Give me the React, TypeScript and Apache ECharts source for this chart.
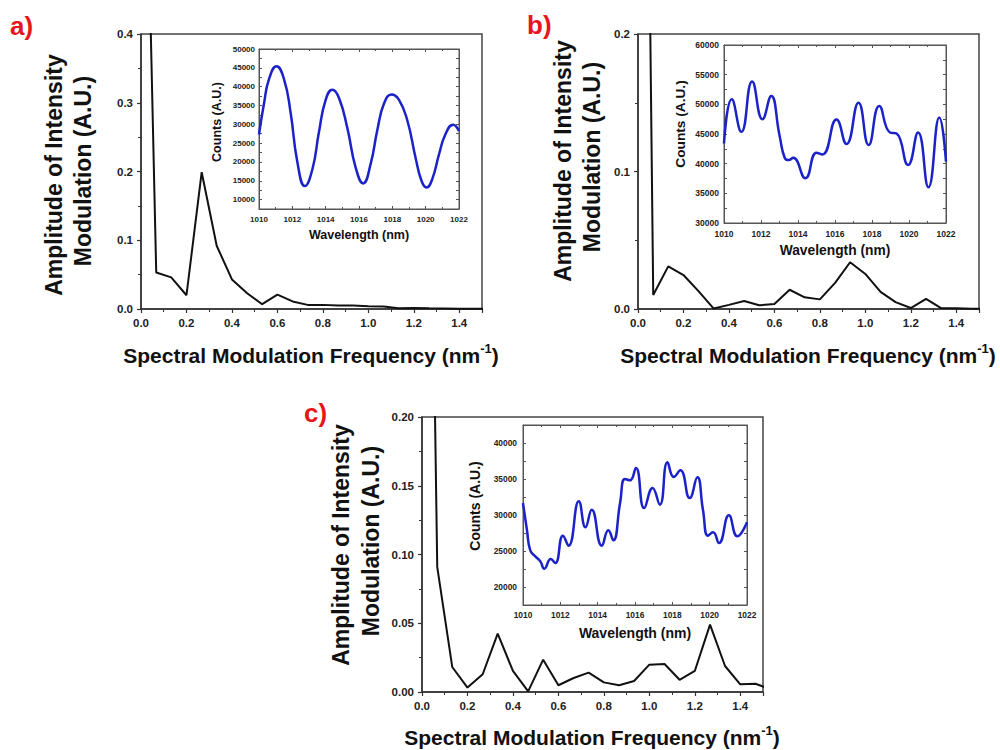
import React, { useEffect, useRef } from "react";
import * as echarts from "echarts";

// ---- data ----
const FREQ = [0, 0.067, 0.133, 0.2, 0.267, 0.333, 0.4, 0.467, 0.533, 0.6, 0.667, 0.733, 0.8, 0.867, 0.933, 1.0, 1.067, 1.133, 1.2, 1.267, 1.333, 1.4, 1.467, 1.533];
const AMP_A = [1.03, 0.053, 0.046, 0.02, 0.199, 0.092, 0.043, 0.023, 0.007, 0.021, 0.011, 0.006, 0.006, 0.005, 0.005, 0.004, 0.0035, 0.001, 0.0015, 0.001, 0.0008, 0.0005, 0.0003, 0.0002];
const AMP_B = [1.0, 0.0102, 0.031, 0.0247, 0.0128, 0.0003, 0.003, 0.0058, 0.0027, 0.0036, 0.014, 0.0085, 0.007, 0.019, 0.034, 0.0255, 0.0124, 0.005, 0.0007, 0.0073, 0.0007, 0.0005, 0.0002, 0.0001];
const AMP_C = [0.85, 0.091, 0.0182, 0.0032, 0.0129, 0.0425, 0.0153, 0.0005, 0.0235, 0.0049, 0.0102, 0.0141, 0.007, 0.0049, 0.008, 0.0199, 0.0204, 0.0089, 0.0153, 0.049, 0.0189, 0.0056, 0.006, 0.002];

const WL_A = [1010.0, 1010.3, 1010.6, 1011.05, 1011.5, 1011.9, 1012.3, 1012.75, 1013.2, 1013.6, 1014.0, 1014.4, 1014.8, 1015.3, 1015.8, 1016.25, 1016.7, 1017.1, 1017.5, 1017.95, 1018.4, 1018.9, 1019.4, 1019.75, 1020.05, 1020.4, 1020.8, 1021.2, 1021.65, 1022.0];
const CNT_A = [27300, 35500, 42000, 45400, 42000, 33000, 20000, 13600, 18000, 28000, 36500, 39200, 37000, 29000, 18500, 14300, 19500, 28500, 35500, 37900, 36500, 31000, 21000, 15000, 13200, 15500, 22000, 27500, 29900, 28200];

const WL_B = [1010.0, 1010.42, 1010.94, 1011.52, 1012.08, 1012.55, 1013.0, 1013.29, 1013.5, 1013.74, 1014.4, 1015.0, 1015.32, 1016.08, 1016.62, 1017.27, 1017.82, 1018.39, 1018.97, 1019.33, 1019.95, 1020.49, 1021.05, 1021.64, 1022.0];
const CNT_B = [43400, 50840, 45360, 53850, 47490, 51400, 44800, 40900, 40600, 41000, 37540, 41850, 41560, 47430, 43300, 50280, 43130, 49720, 45250, 45080, 39780, 45250, 36030, 47770, 40330];

const WL_C = [1010.0, 1010.21, 1010.39, 1010.66, 1010.93, 1011.14, 1011.49, 1011.73, 1012.14, 1012.44, 1012.99, 1013.35, 1013.68, 1014.22, 1014.57, 1014.84, 1015.2, 1015.46, 1015.73, 1016.05, 1016.49, 1016.94, 1017.33, 1017.74, 1018.08, 1018.43, 1018.93, 1019.34, 1019.64, 1019.91, 1020.18, 1020.5, 1021.03, 1021.48, 1022.0];
const CNT_C = [31670, 27960, 25090, 24260, 23560, 22550, 23890, 23330, 27130, 25740, 31900, 28290, 30740, 25740, 27870, 26480, 31670, 35000, 34810, 36530, 30970, 33750, 31440, 37310, 35280, 36200, 32360, 35230, 30740, 27130, 27590, 26110, 29950, 27040, 28980];

const Y_TITLE_1 = "Amplitude of Intensity";
const Y_TITLE_2 = "Modulation (A.U.)";
const INSET_X_TITLE = "Wavelength (nm)";
const INSET_Y_TITLE = "Counts (A.U.)";

const F = '"Liberation Sans", Arial, Helvetica, sans-serif';
const AXIS_COLOR = "#333";
const LABEL_COLOR = "#222";

const pairs = (xs: number[], ys: number[]) => xs.map((x, i) => [x, ys[i]]);

const isMult = (v: number, step: number) => Math.abs(v / step - Math.round(v / step)) < 1e-6;

function mainX(gridIndex: number) {
  return {
    type: "value",
    gridIndex,
    min: 0,
    max: 1.5,
    interval: 0.2,
    axisLine: { show: true, onZero: false, lineStyle: { color: AXIS_COLOR, width: 1.5 } },
    axisTick: { show: true, length: 4, lineStyle: { color: AXIS_COLOR, width: 1.2 } },
    minorTick: { show: true, splitNumber: 2, length: 3, lineStyle: { color: AXIS_COLOR, width: 1 } },
    splitLine: { show: false },
    minorSplitLine: { show: false },
    axisLabel: {
      margin: 8,
      fontSize: 11.5,
      fontWeight: "bold",
      fontFamily: F,
      color: LABEL_COLOR,
      formatter: (v: number) => (isMult(v, 0.2) && v < 1.45 ? v.toFixed(1) : ""),
    },
  };
}

function mainY(gridIndex: number, max: number, interval: number, digits: number) {
  return {
    type: "value",
    gridIndex,
    min: 0,
    max,
    interval,
    axisLine: { show: true, onZero: false, lineStyle: { color: AXIS_COLOR, width: 1.5 } },
    axisTick: { show: true, length: 4, lineStyle: { color: AXIS_COLOR, width: 1.2 } },
    minorTick: { show: true, splitNumber: 2, length: 3, lineStyle: { color: AXIS_COLOR, width: 1 } },
    splitLine: { show: false },
    minorSplitLine: { show: false },
    axisLabel: {
      margin: 8,
      fontSize: 11.5,
      fontWeight: "bold",
      fontFamily: F,
      color: LABEL_COLOR,
      formatter: (v: number) => v.toFixed(digits),
    },
  };
}

function insetX(gridIndex: number, position: string, labels: boolean, margin: number, fs: number) {
  return {
    type: "value",
    gridIndex,
    position,
    min: 1010,
    max: 1022,
    interval: 2,
    axisLine: { show: true, onZero: false, lineStyle: { color: "#555", width: 1 } },
    axisTick: { show: true, inside: true, length: 3, lineStyle: { color: "#555", width: 1 } },
    minorTick: { show: true, splitNumber: 2, length: 2, lineStyle: { color: "#555", width: 1 } },
    splitLine: { show: false },
    minorSplitLine: { show: false },
    axisLabel: {
      show: labels,
      margin,
      fontSize: fs,
      fontWeight: "bold",
      fontFamily: F,
      color: LABEL_COLOR,
      formatter: (v: number) => String(Math.round(v)),
    },
  };
}

function insetY(gridIndex: number, position: string, labels: boolean, min: number, max: number, margin: number, fs: number) {
  return {
    type: "value",
    gridIndex,
    position,
    min,
    max,
    interval: 2500,
    axisLine: { show: true, onZero: false, lineStyle: { color: "#555", width: 1 } },
    axisTick: { show: true, inside: true, length: 3, lineStyle: { color: "#555", width: 1 } },
    splitLine: { show: false },
    axisLabel: {
      show: labels,
      margin,
      fontSize: fs,
      fontWeight: "bold",
      fontFamily: F,
      color: LABEL_COLOR,
      formatter: (v: number) => (isMult(v, 5000) ? String(Math.round(v)) : ""),
    },
  };
}

function txt(x: number, y: number, text: string, size: number, opts: any = {}) {
  return {
    type: "text",
    x,
    y,
    rotation: opts.rotation || 0,
    z: 100,
    style: {
      text,
      fill: opts.fill || "#111",
      fontSize: size,
      fontWeight: "bold",
      fontFamily: F,
      align: opts.align || "center",
      verticalAlign: "middle",
      textAlign: opts.align || "center",
      textVerticalAlign: "middle",
    },
  };
}

function xTitle(x: number, y: number) {
  return {
    type: "text",
    x,
    y,
    z: 100,
    style: {
      text: "{m|Spectral Modulation Frequency (nm}{s|-1}{m|)}",
      align: "center",
      verticalAlign: "middle",
      textAlign: "center",
      textVerticalAlign: "middle",
      fill: "#111",
      rich: {
        m: { fontSize: 21, fontWeight: "bold", fontFamily: F, fill: "#111", lineHeight: 26 },
        s: { fontSize: 13, fontWeight: "bold", fontFamily: F, fill: "#111", verticalAlign: "top", lineHeight: 14 },
      },
    },
  };
}

const R = Math.PI / 2;

export default function App() {
  const ref = useRef<HTMLDivElement>(null);
  useEffect(() => {
    if (!ref.current) return;
    const chart = echarts.init(ref.current, undefined, { renderer: "svg" });
    const mainGrid = { show: true, borderColor: "#444", borderWidth: 1.5, backgroundColor: "transparent", containLabel: false, outerBoundsMode: "none" };
    const insetGrid = { show: true, borderColor: "#555", borderWidth: 1, backgroundColor: "transparent", containLabel: false, outerBoundsMode: "none" };
    const option: any = {
      animation: false,
      backgroundColor: "#fff",
      grid: [
        { ...mainGrid, left: 141, top: 34, width: 341, height: 275 },
        { ...mainGrid, left: 638, top: 34, width: 341, height: 275 },
        { ...mainGrid, left: 422, top: 417, width: 341, height: 275 },
        { ...insetGrid, left: 259, top: 49, width: 200, height: 160 },
        { ...insetGrid, left: 724, top: 45, width: 222, height: 178 },
        { ...insetGrid, left: 523, top: 425, width: 224, height: 180 },
      ],
      xAxis: [
        mainX(0),
        mainX(1),
        mainX(2),
        insetX(3, "bottom", true, 6, 8),
        insetX(4, "bottom", true, 6, 8.5),
        insetX(5, "bottom", true, 6, 8.4),
        insetX(3, "top", false, 6, 8),
        insetX(4, "top", false, 6, 8.5),
        insetX(5, "top", false, 6, 8.4),
      ],
      yAxis: [
        mainY(0, 0.4, 0.1, 1),
        mainY(1, 0.2, 0.1, 1),
        mainY(2, 0.2, 0.05, 2),
        insetY(3, "left", true, 7500, 50000, 4, 8),
        insetY(4, "left", true, 30000, 60000, 5, 8.5),
        insetY(5, "left", true, 17500, 42500, 6, 8.4),
        insetY(3, "right", false, 7500, 50000, 4, 8),
        insetY(4, "right", false, 30000, 60000, 5, 8.5),
        insetY(5, "right", false, 17500, 42500, 6, 8.4),
      ],
      series: [
        { type: "line", xAxisIndex: 0, yAxisIndex: 0, data: pairs(FREQ, AMP_A), showSymbol: false, clip: true, lineStyle: { color: "#111", width: 2 } },
        { type: "line", xAxisIndex: 1, yAxisIndex: 1, data: pairs(FREQ, AMP_B), showSymbol: false, clip: true, lineStyle: { color: "#111", width: 2 } },
        { type: "line", xAxisIndex: 2, yAxisIndex: 2, data: pairs(FREQ, AMP_C), showSymbol: false, clip: true, lineStyle: { color: "#111", width: 2 } },
        { type: "line", xAxisIndex: 3, yAxisIndex: 3, data: pairs(WL_A, CNT_A), showSymbol: false, smooth: 0.5, lineStyle: { color: "#1a22c8", width: 2.5 } },
        { type: "line", xAxisIndex: 4, yAxisIndex: 4, data: pairs(WL_B, CNT_B), showSymbol: false, smooth: 0.5, lineStyle: { color: "#1a22c8", width: 2.5 } },
        { type: "line", xAxisIndex: 5, yAxisIndex: 5, data: pairs(WL_C, CNT_C), showSymbol: false, smooth: 0.5, lineStyle: { color: "#1a22c8", width: 2.5 } },
      ],
      graphic: [
        txt(10, 26, "a)", 26, { fill: "#e8151b", align: "left" }),
        txt(527, 25, "b)", 26, { fill: "#e8151b", align: "left" }),
        txt(304, 413, "c)", 26, { fill: "#e8151b", align: "left" }),
        txt(54, 175, Y_TITLE_1, 23, { rotation: R }),
        txt(83, 171, Y_TITLE_2, 23, { rotation: R }),
        txt(563, 161, Y_TITLE_1, 23, { rotation: R }),
        txt(592, 157, Y_TITLE_2, 23, { rotation: R }),
        txt(341, 545, Y_TITLE_1, 23, { rotation: R }),
        txt(371, 541, Y_TITLE_2, 23, { rotation: R }),
        xTitle(311, 355),
        xTitle(808, 355),
        xTitle(592, 737),
        txt(359, 235, INSET_X_TITLE, 12.5),
        txt(835, 250, INSET_X_TITLE, 13.8),
        txt(635, 633, INSET_X_TITLE, 14),
        txt(217, 122, INSET_Y_TITLE, 12.5, { rotation: R }),
        txt(680, 124, INSET_Y_TITLE, 13.7, { rotation: R }),
        txt(475, 506, INSET_Y_TITLE, 14, { rotation: R }),
      ],
    };
    chart.setOption(option);
    return () => chart.dispose();
  }, []);
  return <div ref={ref} style={{ position: "fixed", left: 0, top: 0, width: 1000, height: 750 }} />;
}
